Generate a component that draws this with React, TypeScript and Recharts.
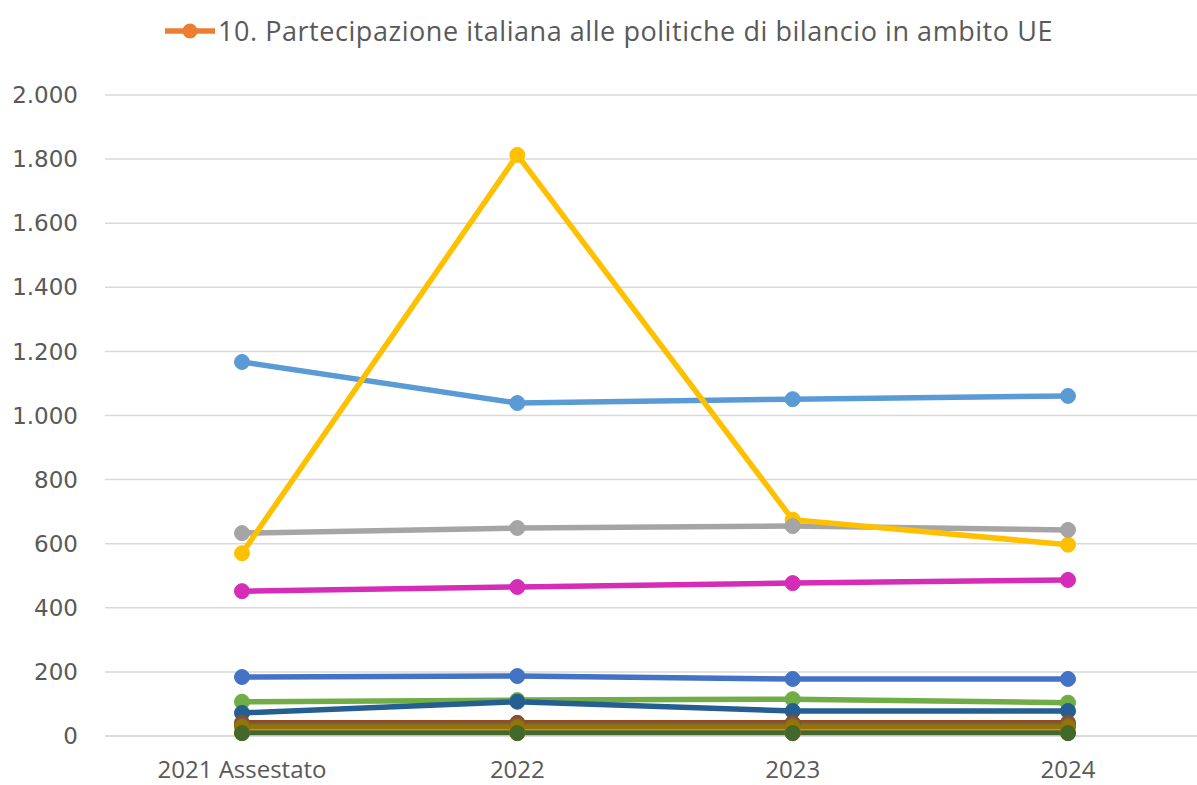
import React from "react";
import { LineChart, Line, XAxis, YAxis, CartesianGrid } from "recharts";

const categories = ["2021 Assestato", "2022", "2023", "2024"];
const yTicks = [0, 200, 400, 600, 800, 1000, 1200, 1400, 1600, 1800, 2000];

const s1 = [184, 187, 178, 178];
const s2 = [9, 9, 9, 9];
const s3 = [633, 649, 655, 643];
const s4 = [570, 1813, 675, 597];
const s5 = [1167, 1039, 1051, 1061];
const s6 = [107, 112, 115, 104];
const s7 = [72, 107, 78, 78];
const s8 = [41, 41, 41, 41];
const s9 = [34, 34, 34, 34];
const s10 = [28, 28, 28, 28];
const s11 = [452, 465, 477, 487];
const s12 = [9, 9, 9, 9];

const seriesKeys = ["s1", "s2", "s3", "s4", "s5", "s6", "s7", "s8", "s9", "s10", "s11", "s12"];
const seriesValues = [s1, s2, s3, s4, s5, s6, s7, s8, s9, s10, s11, s12];
const seriesColors: Record<string, string> = {
  s1: "#4472C4",
  s2: "#ED7D31",
  s3: "#A5A5A5",
  s4: "#FFC000",
  s5: "#5B9BD5",
  s6: "#70AD47",
  s7: "#255E91",
  s8: "#9E480E",
  s9: "#636363",
  s10: "#997300",
  s11: "#D62DB8",
  s12: "#43682B",
};
const legendLabel = "10. Partecipazione italiana alle politiche di bilancio in ambito UE";

const data = categories.map((c, i) => {
  const row: Record<string, string | number> = { name: c };
  seriesKeys.forEach((k, j) => {
    row[k] = seriesValues[j][i];
  });
  return row;
});

const lineOrder = ["s5", "s3", "s4", "s11", "s1", "s6", "s7", "s2", "s8", "s9", "s10", "s12"];
const dotOrder = ["s5", "s4", "s3", "s11", "s1", "s6", "s7", "s2", "s8", "s9", "s10", "s12"];

const fontFam = "'Open Sans', 'Noto Sans', sans-serif";
const yFont = "'DejaVu Sans', Verdana, sans-serif";

const fmtY = (v: number) => (v >= 1000 ? `${Math.floor(v / 1000)}.${String(v % 1000).padStart(3, "0")}` : String(v));

export default function App() {
  return (
    <div style={{ position: "absolute", left: 0, top: 0, width: 1197, height: 785, overflow: "hidden", background: "#fff" }}>
      <div
        style={{
          position: "absolute",
          left: 163,
          top: 11,
          display: "flex",
          alignItems: "center",
          fontFamily: fontFam,
          fontSize: 27,
          letterSpacing: 0.55,
          color: "#595959",
          whiteSpace: "nowrap",
          lineHeight: "40px",
        }}
      >
        <svg width={54} height={20} style={{ marginRight: 1 }}>
          <line x1={2} y1={10} x2={52} y2={10} stroke={seriesColors.s2} strokeWidth={5.5} />
          <circle cx={27} cy={10} r={7.5} fill={seriesColors.s2} />
        </svg>
        <span>{legendLabel}</span>
      </div>
      <LineChart width={1205} height={785} data={data} margin={{ top: 95, right: 0, bottom: 9, left: 0 }}>
        <CartesianGrid vertical={false} stroke="#D9D9D9" strokeWidth={1.5} />
        <XAxis
          dataKey="name"
          axisLine={{ stroke: "#D9D9D9", strokeWidth: 1.5 }}
          tickLine={false}
          padding={{ left: 137, right: 137 }}
          tick={{ fill: "#595959", fontSize: 24, fontFamily: fontFam }}
          tickMargin={19}
          height={40}
        />
        <YAxis
          domain={[0, 2000]}
          ticks={yTicks}
          interval={0}
          axisLine={false}
          tickLine={false}
          width={105}
          tickFormatter={fmtY}
          tick={{ fill: "#595959", fontSize: 23, fontFamily: yFont }}
          tickMargin={21}
        />
        {lineOrder.map((k) => (
          <Line
            key={"l" + k}
            dataKey={k}
            stroke={seriesColors[k]}
            strokeWidth={5.5}
            dot={false}
            activeDot={false}
            isAnimationActive={false}
            type="linear"
          />
        ))}
        {dotOrder.map((k) => (
          <Line
            key={"d" + k}
            dataKey={k}
            stroke="none"
            strokeWidth={0}
            dot={{ r: 7.5, fill: seriesColors[k], stroke: seriesColors[k], strokeWidth: 1 }}
            activeDot={false}
            isAnimationActive={false}
            type="linear"
          />
        ))}
      </LineChart>
    </div>
  );
}
